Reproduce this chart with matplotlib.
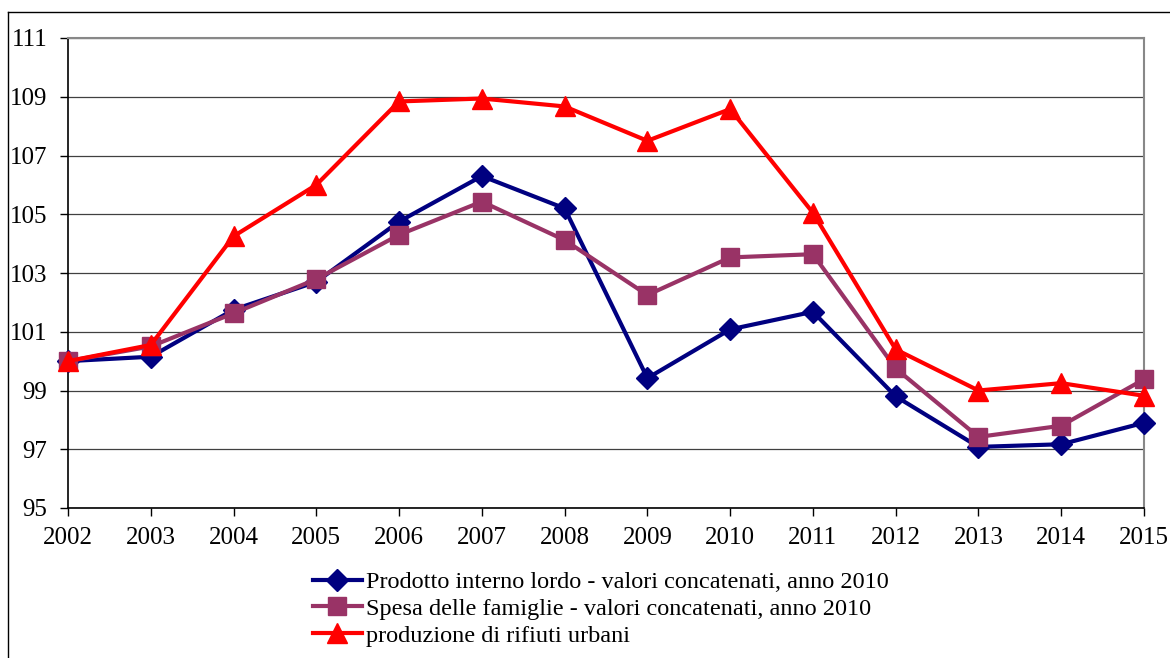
import matplotlib.pyplot as plt
from matplotlib.lines import Line2D

plt.rcParams['font.family'] = ['Liberation Serif', 'DejaVu Serif']

anni = list(range(2002, 2016))
pil = [100.0, 100.15, 101.75, 102.7, 104.75, 106.3, 105.2, 99.42, 101.08, 101.68, 98.8, 97.08, 97.17, 97.9]
spesa = [100.0, 100.5, 101.63, 102.79, 104.3, 105.43, 104.12, 102.25, 103.53, 103.64, 99.75, 97.42, 97.8, 99.38]
rifiuti = [100.0, 100.55, 104.25, 106.0, 108.84, 108.94, 108.67, 107.5, 108.58, 105.05, 100.4, 99.0, 99.25, 98.82]

etichette = [
    "Prodotto interno lordo - valori concatenati, anno 2010",
    "Spesa delle famiglie - valori concatenati, anno 2010",
    "produzione di rifiuti urbani",
]
colori = ["#000080", "#993366", "#FF0000"]
marcatori = ["D", "s", "^"]
dim_marc = [11, 13, 14]

fig = plt.figure(figsize=(11.7, 6.58), dpi=100)
ax = fig.add_axes([68 / 1170, 150 / 658, (1144 - 68) / 1170, (508 - 38) / 658])

for serie, lab, col, m, ms in zip([pil, spesa, rifiuti], etichette, colori, marcatori, dim_marc):
    ax.plot(anni, serie, color=col, lw=3, marker=m, markersize=ms,
            label=lab, clip_on=False, zorder=3)

ax.set_xlim(2002, 2015)
ax.set_ylim(95, 111)
ax.set_xticks(anni)
ax.set_yticks(range(95, 112, 2))
ax.tick_params(labelsize=18, direction="out", length=6, width=1, color="black")
ax.tick_params(axis="x", pad=8)
ax.tick_params(axis="y", pad=9)
ax.yaxis.grid(True, color="#404040", lw=0.9)
ax.set_axisbelow(True)

for lato in ["top", "right"]:
    ax.spines[lato].set_color("#888888")
    ax.spines[lato].set_linewidth(1.5)
for lato in ["left", "bottom"]:
    ax.spines[lato].set_color("black")
    ax.spines[lato].set_linewidth(1.2)

# cornice esterna del grafico
fig.add_artist(Line2D([8 / 1170, 1], [1 - 12 / 658, 1 - 12 / 658], color="black", lw=1))
fig.add_artist(Line2D([8 / 1170, 8 / 1170], [0, 1 - 12 / 658], color="black", lw=1))

fig.legend(loc="upper left", bbox_to_anchor=(313 / 1170, 1 - 571 / 658),
           frameon=False, fontsize=17.5, handlelength=2.0, handletextpad=0.17,
           labelspacing=0.2, borderpad=0, borderaxespad=0)

fig.savefig("out.png", dpi=100)
